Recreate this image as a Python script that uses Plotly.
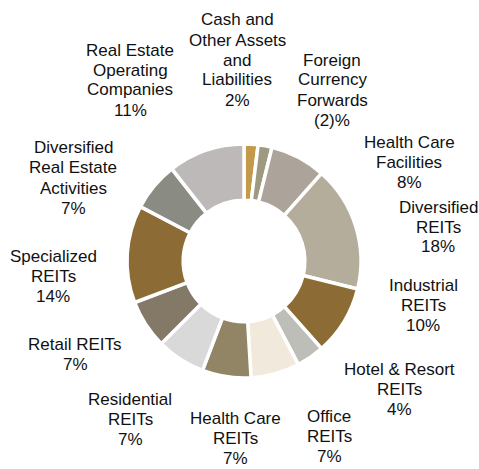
import plotly.graph_objects as go

# Portfolio weights by sector (percent of net assets)
sectors = [
    "Cash and<br>Other Assets<br>and<br>Liabilities",
    "Foreign<br>Currency<br>Forwards",
    "Health Care<br>Facilities",
    "Diversified<br>REITs",
    "Industrial<br>REITs",
    "Hotel & Resort<br>REITs",
    "Office<br>REITs",
    "Health Care<br>REITs",
    "Residential<br>REITs",
    "Retail REITs",
    "Specialized<br>REITs",
    "Diversified<br>Real Estate<br>Activities",
    "Real Estate<br>Operating<br>Companies",
]
weights = [2, -2, 8, 18, 10, 4, 7, 7, 7, 7, 14, 7, 11]

slice_colors = [
    "#C39A4A", "#9E9A82", "#ACA39A", "#B4AD9B", "#8C6C34", "#BDBEB8",
    "#F1EADC", "#918566", "#D9D9D9", "#847966", "#8C6C34", "#8A8B83",
    "#BDB9B9",
]

# Label block centres in pixels (x from left, y from top)
label_x = [237, 332, 409, 438, 423, 399, 329, 235, 130, 75, 53, 73, 130]
label_y = [60, 90, 162, 227, 305, 389, 436, 438, 419, 354, 276, 178, 80]

W, H = 479, 469
LINE_H = 20  # pixel spacing between label lines


def fmt(v):
    return f"({abs(v)})%" if v < 0 else f"{v}%"


fig = go.Figure(
    go.Pie(
        labels=[s.replace("<br>", " ") for s in sectors],
        values=[abs(v) for v in weights],
        sort=False,
        direction="clockwise",
        rotation=0,
        hole=0.52,
        textinfo="none",
        hoverinfo="label+percent",
        marker=dict(colors=slice_colors, line=dict(color="white", width=3.5)),
        domain=dict(x=[(244 - 117) / W, (244 + 117) / W],
                    y=[1 - (261 + 117) / H, 1 - (261 - 117) / H]),
        showlegend=False,
    )
)

annotations = []
for name, v, x, y in zip(sectors, weights, label_x, label_y):
    lines = name.split("<br>") + [fmt(v)]
    n = len(lines)
    for i, line in enumerate(lines):
        ly = y + (i - (n - 1) / 2) * LINE_H
        annotations.append(dict(
            text=line,
            x=x / W, y=1 - ly / H, xref="paper", yref="paper",
            xanchor="center", yanchor="middle", showarrow=False,
            borderpad=0,
            font=dict(family="Liberation Sans, Arial, sans-serif", size=17, color="#111111"),
        ))

fig.update_layout(
    width=W, height=H,
    margin=dict(l=0, r=0, t=0, b=0),
    paper_bgcolor="white", plot_bgcolor="white",
    annotations=annotations,
)

fig.write_html("out.html")
